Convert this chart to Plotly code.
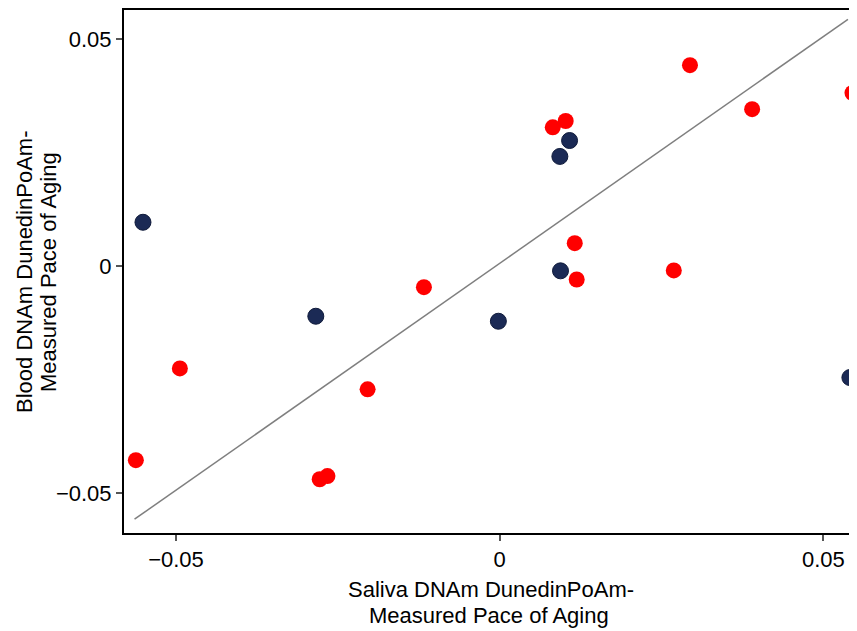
import plotly.graph_objects as go

# Navy series (saliva x, blood y)
navy_x = [-0.0551, -0.0284, -0.0002, 0.0093, 0.0108, 0.0094, 0.0541]
navy_y = [0.0097, -0.0110, -0.0121, 0.0242, 0.0277, -0.0010, -0.0245]

# Red series
red_x = [-0.0562, -0.0494, -0.0278, -0.0266, -0.0204, -0.0117, 0.0082, 0.0102,
         0.0116, 0.0119, 0.0269, 0.0294, 0.0390, 0.0545]
red_y = [-0.0427, -0.0225, -0.0469, -0.0462, -0.0271, -0.0046, 0.0306, 0.0320,
         0.0051, -0.0029, -0.0009, 0.0443, 0.0346, 0.0382]

# Reference line endpoints
line_x = [-0.0564, 0.0538]
line_y = [-0.0557, 0.0544]

x_ticks = [-0.05, 0, 0.05]
x_tick_text = ["\u22120.05", "0", "0.05"]
y_ticks = [-0.05, 0, 0.05]
y_tick_text = ["\u22120.05", "0", "0.05"]

x_title_lines = ["Saliva DNAm DunedinPoAm-", "Measured Pace of Aging"]
y_title_lines = ["Blood DNAm DunedinPoAm-", "Measured Pace of Aging"]

FONT = "Liberation Sans, Arial, sans-serif"
FS = 22

# figure geometry (page has an 8px body margin)
W, H = 849, 623
L, R, T, B = 116, 0, 2, 98
PW, PH = W - L - R, H - T - B


def px(fx):
    return (fx - L) / PW


def py(fy):
    return (H - B - fy) / PH


fig = go.Figure()
fig.add_trace(go.Scatter(x=line_x, y=line_y, mode="lines",
                         line=dict(color="#7f7f7f", width=1.5),
                         hoverinfo="skip", showlegend=False))
fig.add_trace(go.Scatter(x=navy_x, y=navy_y, mode="markers",
                         marker=dict(size=16, color="#1b2a55",
                                     line=dict(color="#0f1a3a", width=1)),
                         showlegend=False))
fig.add_trace(go.Scatter(x=red_x, y=red_y, mode="markers",
                         marker=dict(size=16, color="#ff0000",
                                     line=dict(width=0)),
                         showlegend=False))

annotations = [
    dict(text=x_title_lines[0], xref="paper", yref="paper", x=px(483), y=py(581),
         xanchor="center", yanchor="middle", showarrow=False,
         font=dict(size=FS, family=FONT)),
    dict(text=x_title_lines[1], xref="paper", yref="paper", x=px(481), y=py(607),
         xanchor="center", yanchor="middle", showarrow=False,
         font=dict(size=FS, family=FONT)),
    dict(text=y_title_lines[0], xref="paper", yref="paper", x=px(16), y=py(264),
         xanchor="center", yanchor="middle", textangle=-90, showarrow=False,
         font=dict(size=FS, family=FONT)),
    dict(text=y_title_lines[1], xref="paper", yref="paper", x=px(40), y=py(264),
         xanchor="center", yanchor="middle", textangle=-90, showarrow=False,
         font=dict(size=FS, family=FONT)),
]

fig.update_layout(
    width=W, height=H,
    margin=dict(l=L, r=R, t=T, b=B, autoexpand=False),
    paper_bgcolor="white", plot_bgcolor="white",
    font=dict(family=FONT, size=FS, color="black"),
    xaxis=dict(range=[-0.05803, 0.0552], tickvals=x_ticks, ticktext=x_tick_text,
               showgrid=False, zeroline=False, showline=True, linecolor="black",
               linewidth=2, mirror=True, ticks="outside", ticklen=6,
               tickwidth=1.5, tickcolor="#555", tickfont=dict(size=FS)),
    yaxis=dict(range=[-0.05874, 0.05645], tickvals=y_ticks, ticktext=y_tick_text,
               showgrid=False, zeroline=False, showline=True, linecolor="black",
               linewidth=2, ticks="outside", ticklen=6, tickwidth=1.5,
               tickcolor="#555", tickfont=dict(size=FS)),
    annotations=annotations,
)

fig.write_html("out.html")
